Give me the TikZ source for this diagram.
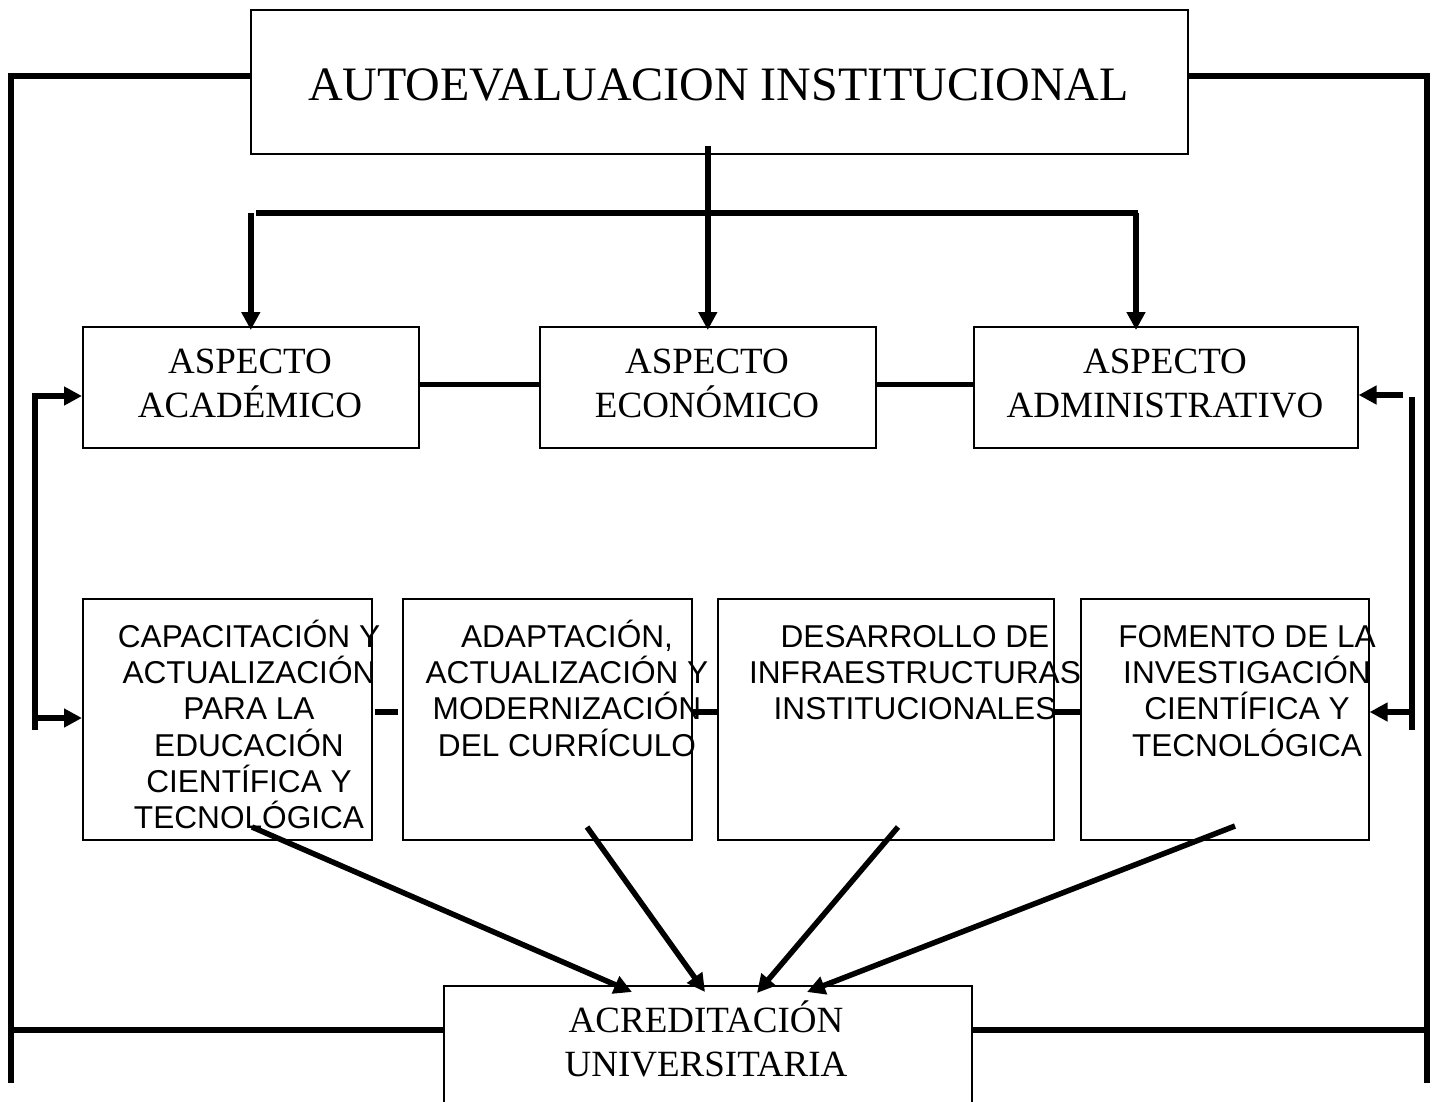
\documentclass[tikz,border=0pt]{standalone}
\usepackage{fontspec}
\setmainfont{Liberation Serif}
\newfontfamily\arialf{Liberation Sans}
\usetikzlibrary{arrows.meta}
\begin{document}
\begin{tikzpicture}[x=1pt,y=-1pt,
  box/.style={draw, line width=1.6pt, inner sep=0pt, anchor=north west},
  thk/.style={line width=5.5pt},
  arr/.style={line width=5.5pt, -{Triangle[length=18pt,width=18pt]}, shorten >=-4pt},
  serif/.style={font=\fontsize{37}{44}\selectfont, align=center, inner sep=0pt, anchor=north},
  sans/.style={font=\arialf\fontsize{31.6}{36.3}\selectfont, align=center, inner sep=0pt, anchor=north},
]
\useasboundingbox (0,0) rectangle (1432,1101);
% boxes
\node[box, minimum width=937pt, minimum height=144pt] (top) at (250,9) {};
\node[box, minimum width=336pt, minimum height=121pt] (acad) at (82,326) {};
\node[box, minimum width=336pt, minimum height=121pt] (econ) at (539,326) {};
\node[box, minimum width=384pt, minimum height=121pt] (admin) at (973,326) {};
\node[box, minimum width=289pt, minimum height=241pt] (b1) at (82,598) {};
\node[box, minimum width=289pt, minimum height=241pt] (b2) at (402,598) {};
\node[box, minimum width=336pt, minimum height=241pt] (b3) at (717,598) {};
\node[box, minimum width=288pt, minimum height=241pt] (b4) at (1080,598) {};
\node[box, minimum width=528pt, minimum height=160pt] (acr) at (443,985) {};
% texts
\node[font=\fontsize{48}{56}\selectfont, anchor=base, inner sep=0pt] (ttop) at (718.5,100) {AUTOEVALUACION INSTITUCIONAL};
\node[serif] (tacad) at (250,336) {\rule{0pt}{37pt}ASPECTO\\ACADÉMICO};
\node[serif] (tecon) at (707,336) {\rule{0pt}{37pt}ASPECTO\\ECONÓMICO};
\node[serif] (tadmin) at (1165,336) {\rule{0pt}{37pt}ASPECTO\\ADMINISTRATIVO};
\node[serif] (tacr) at (706,995) {\rule{0pt}{37pt}ACREDITACIÓN\\UNIVERSITARIA};
\node[sans] (tb1) at (249,615) {\rule{0pt}{32pt}CAPACITACIÓN Y\\ACTUALIZACIÓN\\PARA LA\\EDUCACIÓN\\CIENTÍFICA Y\\TECNOLÓGICA};
\node[sans] (tb2) at (567,615) {\rule{0pt}{32pt}ADAPTACIÓN,\\ACTUALIZACIÓN Y\\MODERNIZACIÓN\\DEL CURRÍCULO};
\node[sans] (tb3) at (915,615) {\rule{0pt}{32pt}DESARROLLO DE\\INFRAESTRUCTURAS\\INSTITUCIONALES};
\node[sans] (tb4) at (1247,615) {\rule{0pt}{32pt}FOMENTO DE LA\\INVESTIGACIÓN\\CIENTÍFICA Y\\TECNOLÓGICA};
% outer frame
\coordinate (lb) at (11,1083);
\coordinate (rb) at (1427,1083);
\coordinate (lm) at (11,1030);
\coordinate (rm) at (1427,1030);
\draw[thk] ([yshift=6pt]top.west) -| (lb);
\draw[thk] ([yshift=6pt]top.east) -| (rb);
\draw[thk] (lm) -- (lm -| acr.west);
\draw[thk] (acr.east |- rm) -- (rm);
% top branch
\coordinate (barL) at (256,213);
\coordinate (barR) at (1138,213);
\coordinate (adm) at (1136,213);
\draw[thk] (barL) -- (barR);
\draw[arr] ([yshift=9pt]econ.north |- top.south) -- (econ.north);
\draw[arr] (acad.north |- barL) -- (acad.north);
\draw[arr] (adm) -- (adm |- admin.north);
% aspect links
\draw[thk] ([yshift=3pt]acad.east) -- ([yshift=3pt]econ.west);
\draw[thk] ([yshift=3pt]econ.east) -- ([yshift=3pt]admin.west);
% left bracket
\coordinate (lt) at (35,396);
\coordinate (lbt) at (35,730);
\coordinate (lmid) at (35,718);
\draw[arr, shorten >=0pt] (lbt) -- (lt) -- (lt -| acad.west);
\draw[arr, shorten >=0pt] (lmid) -- (lmid -| b1.west);
% right bracket
\coordinate (rt) at (1412,397);
\coordinate (rbt) at (1412,730);
\coordinate (rta) at (1403,395);
\coordinate (rmid) at (1412,712);
\draw[thk] (rt) -- (rbt);
\draw[arr, shorten >=0pt] (rta) -- (rta -| admin.east);
\draw[arr, shorten >=0pt] (rmid) -- (rmid -| b4.east);
% bottom box links
\coordinate (hm) at (0,712);
\draw[thk, shorten <=2pt, shorten >=4pt] (b1.east |- hm) -- (b2.west |- hm);
\draw[thk, shorten <=-1pt] (b2.east |- hm) -- (b3.west |- hm);
\draw[thk] (b3.east |- hm) -- (b4.west |- hm);
% converging arrows
\coordinate (s1) at (252,827);
\coordinate (s2) at (587,827);
\coordinate (s3) at (898,827);
\coordinate (s4) at (1235,826);
\draw[arr, shorten >=0pt] (s1) -- ([xshift=189pt, yshift=-7pt]acr.north west);
\draw[arr, shorten >=0pt] (s2) -- ([xshift=262pt, yshift=-7pt]acr.north west);
\draw[arr, shorten >=0pt] (s3) -- ([xshift=314pt, yshift=-8pt]acr.north west);
\draw[arr, shorten >=0pt] (s4) -- ([xshift=364pt, yshift=-7pt]acr.north west);
\end{tikzpicture}
\end{document}
